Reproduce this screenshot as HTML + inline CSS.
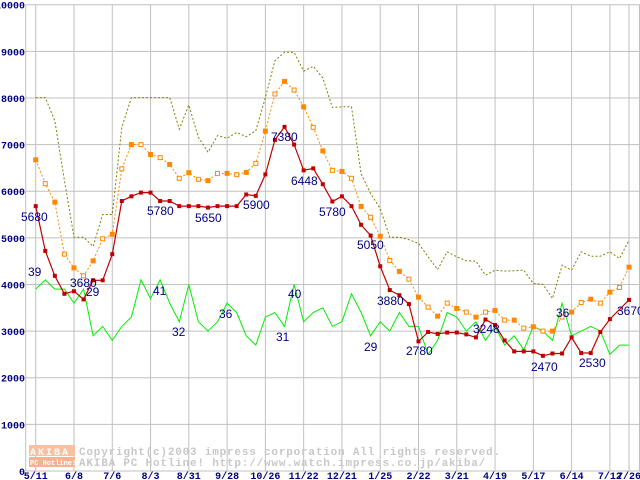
<!DOCTYPE html>
<html><head><meta charset="utf-8">
<style>
html,body{margin:0;padding:0;background:#fff;}
#wrap{position:relative;width:640px;height:480px;overflow:hidden;}
svg{position:absolute;left:0;top:0;}
.tick{font-family:"Liberation Mono",monospace;font-size:10px;font-weight:bold;fill:#000080;}
.lbl{font-family:"Liberation Sans",sans-serif;font-size:12px;fill:#000080;}
.wm{font-family:"Liberation Mono",monospace;font-size:11px;font-weight:bold;fill:#c8c8c8;letter-spacing:0.8px;}
</style></head>
<body>
<div id="wrap">
<svg id="chart" width="640" height="480" xmlns="http://www.w3.org/2000/svg"></svg>
</div>
<script>
const xTickLabels=["5/11","6/8","7/6","8/3","8/31","9/28","10/26","11/22","12/21","1/25","2/22","3/21","4/19","5/17","6/14","7/12","7/26"];
const xTickIdx=[0,4,8,12,16,20,24,28,32,36,40,44,48,52,56,60,62];
const yTicks=[0,1000,2000,3000,4000,5000,6000,7000,8000,9000,10000];
const redVals=[5680,4720,4185,3800,3855,3680,4090,4090,4650,5790,5890,5970,5970,5790,5790,5680,5680,5680,5650,5680,5680,5680,5930,5900,6360,7100,7380,7000,6448,6490,6150,5780,5890,5680,5280,5050,4390,3880,3770,3580,2780,2980,2940,2970,2970,2930,2865,3248,3130,2800,2565,2565,2565,2470,2520,2520,2865,2530,2530,2980,3257,null,3670];
const orangeVals=[6674,6163,5766,4650,4356,4185,4506,4980,5078,6480,7000,7000,6787,6720,6574,6277,6397,6255,6227,6383,6383,6355,6404,6596,7290,8085,8355,8170,7810,7370,6865,6447,6425,6277,5674,5440,5035,4514,4280,4114,3728,3514,3321,3600,3486,3407,3300,3407,3443,3236,3236,3064,3093,3000,3000,3300,3407,3614,3686,3600,3836,3936,4371];
const oliveVals=[8007,8007,7510,6234,5014,5014,4815,5500,5500,7370,8007,8007,8007,8007,8007,7333,7850,7156,6837,7192,7135,7262,7170,7298,8007,8800,8980,8980,8575,8680,8430,7795,7810,7810,6375,5950,5630,5014,5014,4960,4880,4593,4320,4700,4593,4507,4500,4200,4307,4286,4293,4307,4021,4007,3700,4414,4307,4700,4607,4607,4700,4557,4950];
const greenVals=[39,41,39,39,36,39,29,31,28,31,33,41,37,41,36,32,40,32,30,32,36,34,29,27,33,34,31,40,32,34,35,31,32,38,34,29,32,30,34,31,31,25,28,34,33,30,32,28,31,27,29,26,31,30,28,36,29,30,31,30,25,27,27];
const redLabels=[[0,"5680",21,216],[5,"3680",70,282],[12,"5780",147,210],[18,"5650",195,217],[23,"5900",243,204],[26,"7380",271,136],[28,"6448",291,180],[31,"5780",319,211],[35,"5050",357,244],[37,"3880",377,300],[40,"2780",406,350],[47,"3248",473,328],[53,"2470",531,366],[57,"2530",579,362],[62,"3670",617,310]];
const greenLabels=[[0,"39",28,271],[6,"29",86,291],[13,"41",153,290],[15,"32",172,331],[20,"36",219,313],[26,"31",276,336],[27,"40",288,293],[35,"29",364,346],[55,"36",556,312]];

const X=i=>35.7+i*9.57;
const Y=v=>471-v*0.04663;
const svg=document.getElementById('chart');
const NS="http://www.w3.org/2000/svg";
function mk(tag,attrs){const e=document.createElementNS(NS,tag);for(const k in attrs)e.setAttribute(k,attrs[k]);svg.appendChild(e);return e;}

yTicks.forEach(v=>{
  const l=mk('line',{x1:25.7,x2:640,y1:Y(v),y2:Y(v),stroke:'#c0c0c0','stroke-width':1});
  
  
  const t=mk('text',{x:25,y:Y(v)+4,'text-anchor':'end',class:'tick'});
  t.textContent=v;
  
  
});
xTickIdx.forEach((ix,k)=>{
  const l=mk('line',{x1:X(ix),x2:X(ix),y1:Y(10000),y2:471,stroke:'#c0c0c0','stroke-width':1});
  
  
  const t=mk('text',{x:X(ix),y:479,'text-anchor':'middle',class:'tick'});
  t.textContent=xTickLabels[k];
  
  
});
const ax=mk('line',{x1:25.7,x2:25.7,y1:Y(10000),y2:471,stroke:'#c0c0c0','stroke-width':1});


const rx=mk('line',{x1:639.5,x2:639.5,y1:Y(10000),y2:471,stroke:'#c0c0c0','stroke-width':1});



const lg=mk('rect',{x:29,y:445,width:46,height:11,fill:'#f8c0a0'});


const lg2=mk('rect',{x:29,y:457,width:46,height:10,fill:'#f8b090'});


const lt=mk('text',{x:30,y:455,class:'wm',style:'fill:#fff;font-size:10px;letter-spacing:2px'});lt.textContent="AKIBA";


const lt2=mk('text',{x:30,y:465,class:'wm',style:'fill:#fff;font-size:7px;letter-spacing:0'});lt2.textContent="PC Hotline!";


const w1=mk('text',{x:79,y:455,class:'wm'});w1.textContent="Copyright(c)2003 impress corporation All rights reserved.";


const w2=mk('text',{x:79,y:466,class:'wm'});w2.textContent="AKIBA PC Hotline!  http://www.watch.impress.co.jp/akiba/";



function pathOf(vals,scale){
  let d='';vals.forEach((v,i)=>{if(v==null)return;d+=(d?'L':'M')+X(i).toFixed(1)+' '+Y(v*scale).toFixed(1);});return d;
}
const po=mk('path',{d:pathOf(oliveVals,1),fill:'none',stroke:'#808000','stroke-width':1,'stroke-dasharray':'2 2'});


const pg=mk('path',{d:pathOf(greenVals,100),fill:'none',stroke:'#00ee00','stroke-width':1});


const pr=mk('path',{d:pathOf(orangeVals,1),fill:'none',stroke:'#ff8800','stroke-width':1,'stroke-dasharray':'2 2'});


orangeVals.forEach((v,i)=>{
  if(v==null)return;
  const r=mk('rect',{x:X(i)-2,y:Y(v)-2,width:4,height:4,fill:(i%2?'#fff':'#ff8800'),stroke:'#ff8800','stroke-width':1});
  
  
});
const pd=mk('path',{d:pathOf(redVals,1),fill:'none',stroke:'#c00000','stroke-width':1.2});


redVals.forEach((v,i)=>{
  if(v==null)return;
  const r=mk('rect',{x:X(i)-2,y:Y(v)-2,width:4,height:4,fill:'#c00000'});
  
  
});
redLabels.forEach(([i,s,x,y])=>{
  const t=mk('text',{x:x,y:y+5,class:'lbl'});t.textContent=s;
  
  
});
greenLabels.forEach(([i,s,x,y])=>{
  const t=mk('text',{x:x,y:y+5,class:'lbl'});t.textContent=s;
  
  
});
</script>
</body></html>
